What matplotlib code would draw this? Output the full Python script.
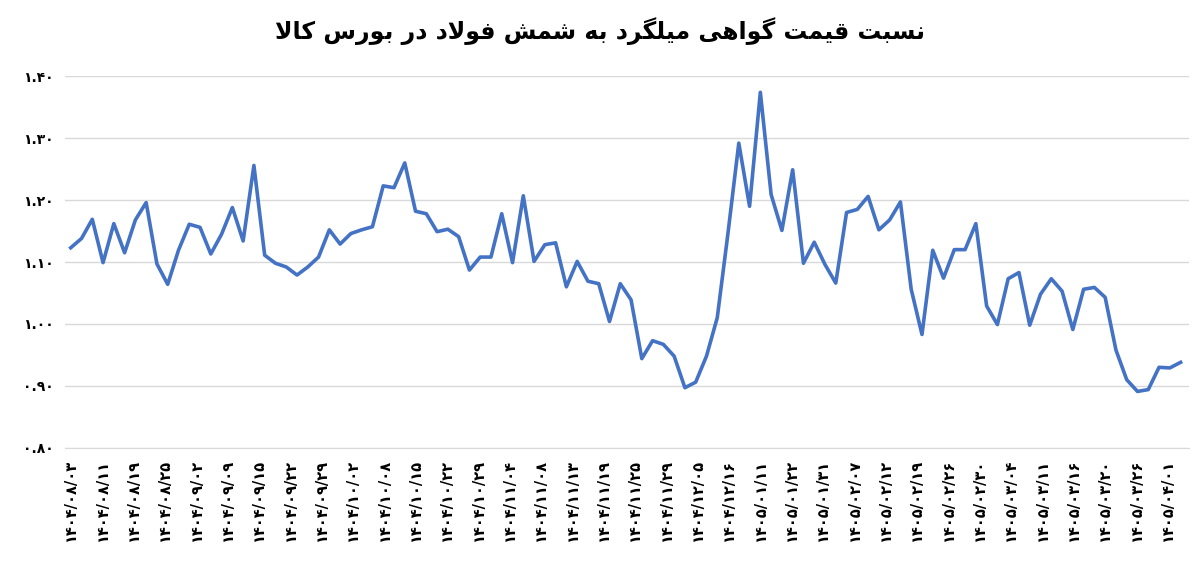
import numpy as np
import matplotlib
matplotlib.use("Agg")
import matplotlib.pyplot as plt

values = [1.123, 1.138, 1.169, 1.099, 1.162, 1.115, 1.168, 1.196, 1.097, 1.064,
          1.119, 1.161, 1.156, 1.113, 1.145, 1.188, 1.134, 1.256, 1.111, 1.098,
          1.092, 1.079, 1.092, 1.108, 1.152, 1.129, 1.146, 1.152, 1.157, 1.223,
          1.220, 1.260, 1.182, 1.178, 1.149,
          1.153, 1.141, 1.087, 1.108, 1.108, 1.178, 1.099, 1.207, 1.101, 1.128,
          1.131, 1.060, 1.101, 1.069, 1.065, 1.004, 1.065, 1.039, 0.944, 0.973,
          0.967, 0.948, 0.897, 0.906, 0.948, 1.010, 1.147, 1.292, 1.190, 1.374,
          1.209, 1.151, 1.249, 1.098,
          1.132, 1.096, 1.066, 1.180, 1.185, 1.206, 1.152, 1.168, 1.197, 1.056,
          0.983, 1.119, 1.074, 1.120, 1.120, 1.162, 1.029, 0.999, 1.073, 1.083,
          0.998, 1.048, 1.073, 1.053, 0.991, 1.056, 1.059, 1.043, 0.958, 0.910,
          0.891, 0.894, 0.930, 0.929, 0.938]

tick_labels = ["1404/08/03", "1404/08/11", "1404/08/19", "1404/08/25", "1404/09/02",
               "1404/09/09", "1404/09/15", "1404/09/22", "1404/09/29", "1404/10/02",
               "1404/10/08", "1404/10/15", "1404/10/22", "1404/10/29", "1404/11/04",
               "1404/11/08", "1404/11/13", "1404/11/19", "1404/11/25", "1404/11/29",
               "1404/12/05", "1404/12/16", "1405/01/11", "1405/01/22", "1405/01/31",
               "1405/02/07", "1405/02/12", "1405/02/19", "1405/02/26", "1405/02/30",
               "1405/03/04", "1405/03/11", "1405/03/16", "1405/03/20", "1405/03/26",
               "1405/04/01"]

y_ticks = [0.80, 0.90, 1.00, 1.10, 1.20, 1.30, 1.40]

title = "نسبت قیمت گواهی میلگرد به شمش فولاد در بورس کالا"

# --- minimal Persian shaping (presentation forms) ---
FORMS = {
    'ا': (0xFE8D, 0xFE8E, None, None),
    'ب': (0xFE8F, 0xFE90, 0xFE91, 0xFE92),
    'ت': (0xFE95, 0xFE96, 0xFE97, 0xFE98),
    'د': (0xFEA9, 0xFEAA, None, None),
    'ر': (0xFEAD, 0xFEAE, None, None),
    'س': (0xFEB1, 0xFEB2, 0xFEB3, 0xFEB4),
    'ش': (0xFEB5, 0xFEB6, 0xFEB7, 0xFEB8),
    'ف': (0xFED1, 0xFED2, 0xFED3, 0xFED4),
    'ق': (0xFED5, 0xFED6, 0xFED7, 0xFED8),
    'ل': (0xFEDD, 0xFEDE, 0xFEDF, 0xFEE0),
    'م': (0xFEE1, 0xFEE2, 0xFEE3, 0xFEE4),
    'ن': (0xFEE5, 0xFEE6, 0xFEE7, 0xFEE8),
    'ه': (0xFEE9, 0xFEEA, 0xFEEB, 0xFEEC),
    'و': (0xFEED, 0xFEEE, None, None),
    'ی': (0xFBFC, 0xFBFD, 0xFBFE, 0xFBFF),
    'گ': (0xFB92, 0xFB93, 0xFB94, 0xFB95),
    'ک': (0xFB8E, 0xFB8F, 0xFB90, 0xFB91),
}


def shape(text):
    chars = []
    i = 0
    while i < len(text):
        if text[i] == 'ل' and i + 1 < len(text) and text[i + 1] == 'ا':
            chars.append('LA')
            i += 2
        else:
            chars.append(text[i])
            i += 1

    def joins_next(c):  # can connect to following letter
        if c == 'LA':
            return False
        f = FORMS.get(c)
        return f is not None and f[2] is not None

    def is_letter(c):
        return c == 'LA' or c in FORMS

    out = []
    for k, c in enumerate(chars):
        prev = chars[k - 1] if k > 0 else None
        nxt = chars[k + 1] if k + 1 < len(chars) else None
        jp = prev is not None and joins_next(prev)
        jn = nxt is not None and is_letter(nxt) and joins_next(c)
        if c == 'LA':
            out.append(chr(0xFEFC if jp else 0xFEFB))
            continue
        f = FORMS.get(c)
        if f is None:
            out.append(c)
            continue
        if jp and jn:
            out.append(chr(f[3]))
        elif jp:
            out.append(chr(f[1]))
        elif jn:
            out.append(chr(f[2]))
        else:
            out.append(chr(f[0]))
    return ''.join(reversed(out))


fa = str.maketrans("0123456789", "۰۱۲۳۴۵۶۷۸۹")

plt.rcParams['font.family'] = ['DejaVu Sans']
fig = plt.figure(figsize=(12, 5.69), dpi=100)
ax = fig.add_axes([0.054, 0.213, 0.937, 0.653])

x = np.arange(len(values))
ax.plot(x, values, color="#4472C4", lw=2.6, solid_joinstyle="round")

ax.set_ylim(0.80, 1.40)
ax.set_yticks(y_ticks)
ax.set_yticklabels([f"{v:.2f}".translate(fa) for v in y_ticks], fontsize=10, fontweight="bold")
ax.grid(axis="y", color="#d9d9d9", lw=1)
ax.set_axisbelow(True)

tick_pos = np.linspace(0, 101.8, len(tick_labels))
ax.set_xticks(tick_pos)
ax.set_xticklabels([t.translate(fa) for t in tick_labels], rotation=90, fontsize=10.5, fontweight="bold")
ax.set_xlim(-0.55, len(values) - 0.2)
ax.tick_params(length=0, pad=8)
for s in ax.spines.values():
    s.set_visible(False)
ax.spines['bottom'].set_visible(True)
ax.spines['bottom'].set_color("#d9d9d9")

fig.text(0.5, 0.945, shape(title), ha="center", va="center", fontsize=17, fontweight="bold")

fig.savefig("out.png", dpi=100, facecolor="white")
